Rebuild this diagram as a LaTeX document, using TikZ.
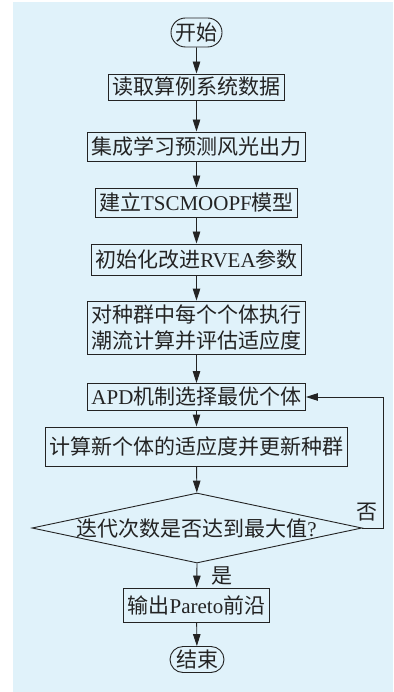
\documentclass[tikz,border=0pt]{standalone}
\usepackage{fontspec}
\setmainfont{Liberation Serif}
\newfontfamily\cjk{Noto Sans CJK SC}
\usetikzlibrary{shapes.misc,shapes.geometric,arrows.meta}
\definecolor{bgblue}{RGB}{224,242,250}
\definecolor{ink}{RGB}{35,35,35}
\begin{document}
\begin{tikzpicture}[x=1pt,y=-1pt,
  font=\fontsize{21}{26}\selectfont,
  every node/.style={text=ink},
  box/.style={draw=ink, line width=0.9pt, inner xsep=4pt, inner ysep=1pt, align=center},
  term/.style={draw=ink, rounded rectangle, line width=0.9pt, inner xsep=3pt, inner ysep=1pt},
  arr/.style={draw=ink, -{Triangle[length=12pt,width=7.5pt]}, line width=0.9pt}]
\useasboundingbox (0,0) rectangle (393,692);
\fill[bgblue] (13,2) rectangle (393,692);
\node[term, minimum height=29pt, minimum width=57pt] (s) at (196.5,32.5) {\cjk 开始};
\node[box, minimum height=26pt] (b1) at (196.5,87) {\cjk 读取算例系统数据};
\node[box, minimum height=29pt] (b2) at (196.5,146.5) {\cjk 集成学习预测风光出力};
\node[box, minimum height=29pt] (b3) at (196.5,202.5) {{\cjk 建立}TSCMOOPF{\cjk 模型}};
\node[box, minimum height=31pt] (b4) at (196.5,259.5) {{\cjk 初始化改进}RVEA{\cjk 参数}};
\node[box, minimum height=53pt] (b5) at (196.5,327.5) {{\cjk 对种群中每个个体执行}\\{\cjk 潮流计算并评估适应度}};
\node[box, minimum height=27pt] (b6) at (196.5,397) {APD{\cjk 机制选择最优个体}};
\node[box, minimum height=39pt] (b7) at (196.5,446.5) {\cjk 计算新个体的适应度并更新种群};
\node[diamond, draw=ink, line width=0.9pt, inner sep=0pt, minimum width=330pt, minimum height=70pt] (d) at (197,528) {};
\node (dt) at (196.5,529) {{\cjk 迭代次数是否达到最大值}?};
\node[box, minimum height=34pt] (b8) at (196.5,605) {{\cjk 输出}Pareto{\cjk 前沿}};
\node[term, minimum height=26pt, minimum width=60pt] (e) at (197,659.5) {\cjk 结束};
\coordinate (fbx) at (383,0);
\node (no) at (367,512) {\cjk 否};
\node (yes) at (222,576) {\cjk 是};
\draw[arr] (s) -- (b1);
\draw[arr] (b1) -- (b2);
\draw[arr] (b2) -- (b3);
\draw[arr] (b3) -- (b4);
\draw[arr] (b4) -- (b5);
\draw[arr] (b5) -- (b6);
\draw[arr] (b6) -- (b7);
\draw[arr] (b7) -- (d);
\draw[arr] (d.south) -- (b8);
\draw[arr] (b8) -- (e);
\draw[arr] (d.east) -- (d.east -| fbx) |- (b6.east);
\end{tikzpicture}
\end{document}
